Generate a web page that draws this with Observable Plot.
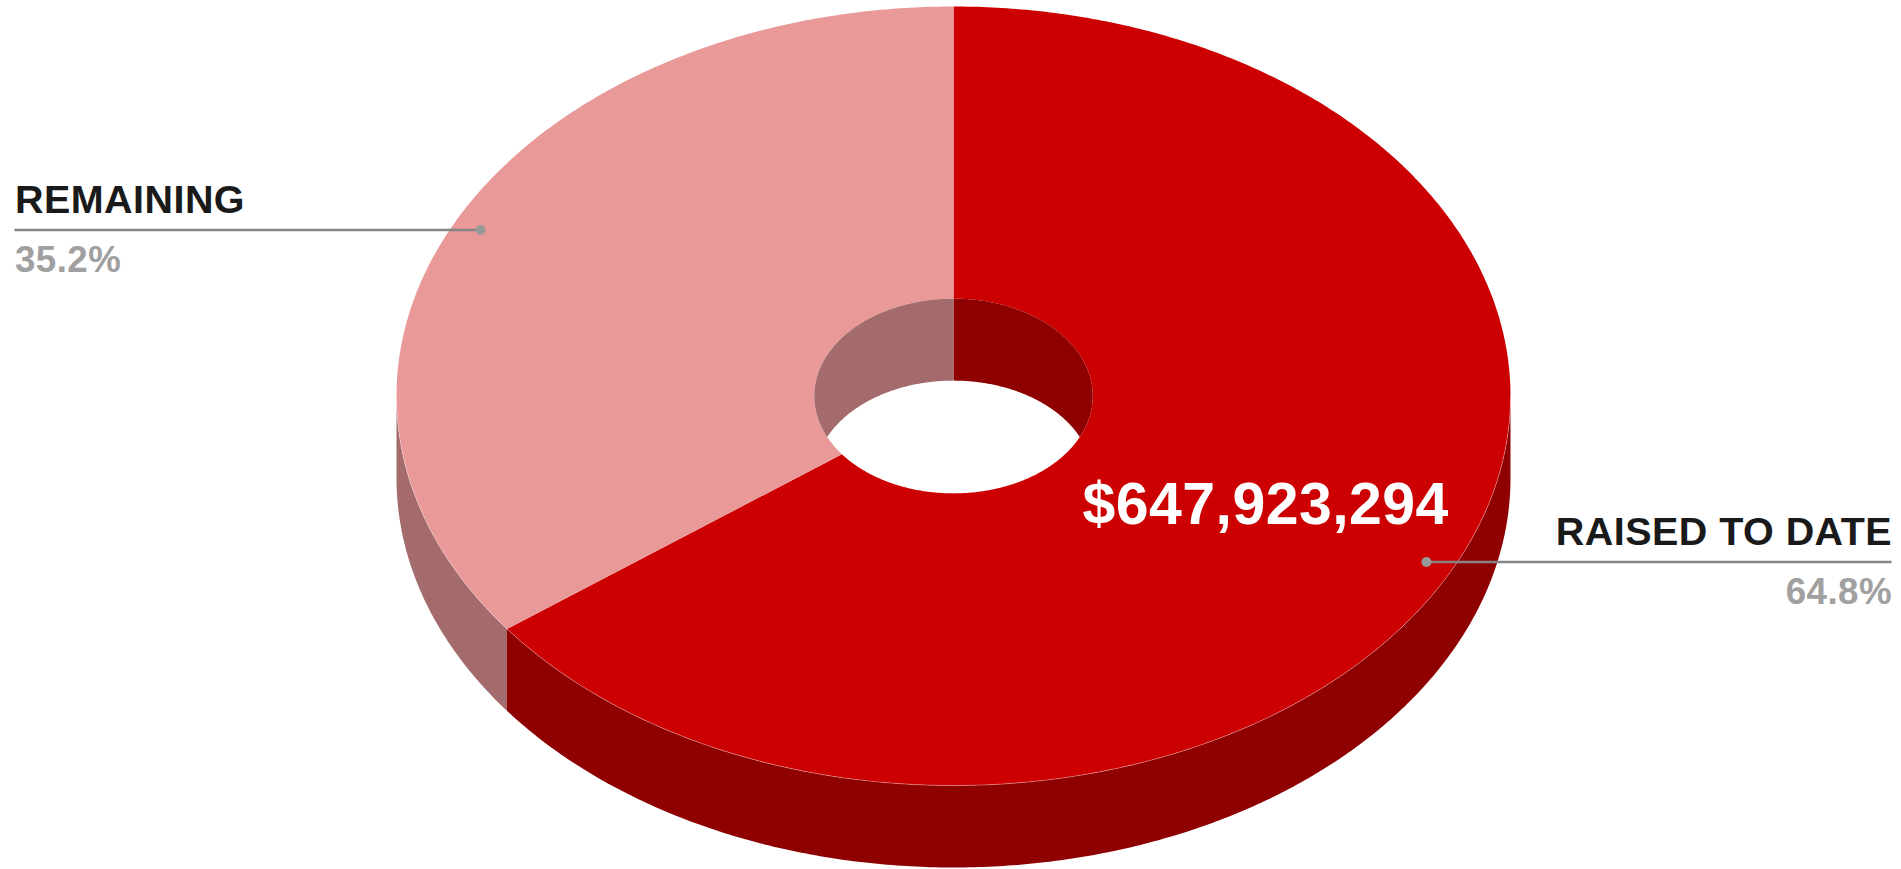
<!DOCTYPE html>
<html>
<head>
<meta charset="utf-8">
<title>Funds raised to date</title>
<script src="https://cdn.jsdelivr.net/npm/d3@7"></script>
<script src="https://cdn.jsdelivr.net/npm/@observablehq/plot@0.6"></script>
<style>
  html, body { margin: 0; padding: 0; background: #fff; }
  svg { display: block; }
</style>
</head>
<body>
<div id="chart"></div>
<script>
// Chart data
const categories = ["RAISED TO DATE", "REMAINING"];
const shares = [64.8, 35.2];
const shareLabels = ["64.8%", "35.2%"];
const raisedLabel = "$647,923,294";

// Slice colours: top face, then the shaded side of the same slice
const faceColors = ["#cc0000", "#ea9999"];
const sideColors = ["#8f0000", "#a36b6b"];

// Donut proportions, in units of the outer radius
const innerRadius = 0.25;
const depth = 0.2105;
const leaderRadius = 0.95;
const labelEdge = 1.685;

const rad = (deg) => (deg * Math.PI) / 180;

// Points along an arc, angles measured clockwise from twelve o'clock
function arc(radius, from, to, shift = 0) {
  const n = Math.max(2, Math.ceil(Math.abs(to - from) * 2));
  return d3.range(n + 1).map((i) => {
    const a = rad(from + ((to - from) * i) / n);
    return {x: radius * Math.sin(a), y: -radius * Math.cos(a) + shift};
  });
}

const part = (name, points) => points.map((p) => ({...p, part: name}));

// Slice extents from the shares
const raisedEnd = (shares[0] / d3.sum(shares)) * 360;
const extents = [[0, raisedEnd], [raisedEnd, 360]];
const midAngles = extents.map(([a, b]) => (a + b) / 2);

// Outer side wall: only the front half of the rim shows
const outerSides = [[90, raisedEnd], [raisedEnd, 270]].flatMap(([a, b], i) =>
  part(`side${i}`, [...arc(1, a, b), ...arc(1, b, a, depth)])
);

// Top face of each slice, with the hole cut out
const faces = extents.flatMap(([a, b], i) =>
  part(`face${i}`, [...arc(1, a, b), ...arc(innerRadius, b, a)])
);

// Inner wall seen through the hole, split at twelve o'clock
const holeMeet = Math.acos(-(depth / 2) / innerRadius) * (180 / Math.PI);
const innerWalls = [
  ...part("side0", [...arc(innerRadius, 0, holeMeet), ...arc(innerRadius, 180 - holeMeet, 0, depth)]),
  ...part("side1", [...arc(innerRadius, 360, 360 - holeMeet), ...arc(innerRadius, 180 + holeMeet, 360, depth)])
];

// Pale hairline along the front of the top face
const rimEdge = part("rim", arc(1, 90, 270));

// Leaders run from a point inside each slice out to its label
const labels = categories.map((name, i) => {
  const a = rad(midAngles[i]);
  const x = leaderRadius * Math.sin(a);
  const y = -leaderRadius * Math.cos(a);
  return {name, share: shareLabels[i], x, y, edge: x > 0 ? labelEdge : -labelEdge};
});

// Each side of the chart has its own text alignment
const labelMarks = (anchor, rows) => [
  Plot.text(rows, {
    x: "edge", y: "y", text: "name", textAnchor: anchor,
    lineAnchor: "bottom", dy: -17, fontSize: 39.5, fontWeight: 700, fill: "#1a1a1a"
  }),
  Plot.text(rows, {
    x: "edge", y: "y", text: "share", textAnchor: anchor,
    lineAnchor: "bottom", dy: 42, fontSize: 36.7, fontWeight: 700, fill: "#a0a0a0"
  })
];

const chart = Plot.plot({
  width: 1901,
  height: 869,
  margin: 0,
  style: {background: "#fff", fontFamily: "'Liberation Sans', Arial, sans-serif", letterSpacing: "0.45px"},
  x: {axis: null, domain: [-1, 1], range: [396, 1510]},
  y: {axis: null, domain: [-1, 1], range: [6, 785]},
  color: {
    domain: ["face0", "face1", "side0", "side1"],
    range: [...faceColors, ...sideColors]
  },
  marks: [
    Plot.line(outerSides, {x: "x", y: "y", z: "part", fill: "part", stroke: "none"}),
    Plot.line(faces, {x: "x", y: "y", z: "part", fill: "part", stroke: "none"}),
    Plot.line(innerWalls, {x: "x", y: "y", z: "part", fill: "part", stroke: "none"}),
    Plot.line(rimEdge, {x: "x", y: "y", stroke: "#fff", strokeOpacity: 0.4, strokeWidth: 0.8}),
    Plot.ruleY(labels, {x1: "x", x2: "edge", y: "y", stroke: "#858585", strokeWidth: 2.5}),
    Plot.dot(labels, {x: "x", y: "y", r: 5, fill: "#999", stroke: "none"}),
    ...labelMarks("end", labels.filter((d) => d.x > 0)),
    ...labelMarks("start", labels.filter((d) => d.x < 0)),
    Plot.text([raisedLabel], {
      x: [0.5605], y: [0.3275], text: (d) => d,
      lineAnchor: "bottom", fontSize: 59, fontWeight: 700, fill: "#fff"
    })
  ]
});

document.getElementById("chart").append(chart);
</script>
</body>
</html>
